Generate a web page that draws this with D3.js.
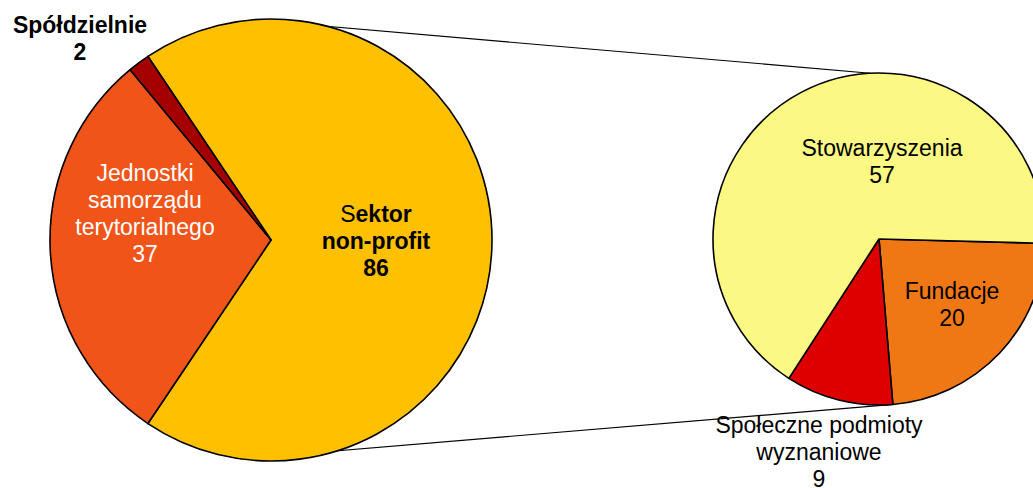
<!DOCTYPE html>
<html>
<head>
<meta charset="utf-8">
<script src="https://cdn.jsdelivr.net/npm/d3@7"></script>
<style>
  body { margin: 0; background: #fff; }
  svg { display: block; font-family: "Liberation Sans", Arial, sans-serif; }
</style>
</head>
<body>
<svg></svg>
<script>
// ─── DATA ─────────────────────────────────────────────────────────────────────

const mainLabels = [
  ["S|ektor", "non-profit"],
  ["Jednostki", "samorządu", "terytorialnego"],
  ["Spółdzielnie"],
];
const mainValues = [86, 37, 2];

const subLabels = [
  ["Fundacje"],
  ["Społeczne podmioty", "wyznaniowe"],
  ["Stowarzyszenia"],
];
const subValues = [20, 9, 57];

// ─── DIMENSIONS & STYLE ───────────────────────────────────────────────────────

const width = 1033,
  height = 488,
  fontSize = 23,
  lineH = 27;

const main = { cx: 271, cy: 240, r: 221 };
const sub = { cx: 879, cy: 239, r: 166 };

const mainColors = ["#FFC000", "#F05419", "#A50000"];
const subColors = ["#F07814", "#DE0000", "#FBF883"];

// label anchor: x offset from pie centre, baseline of first line, colour, weight
const mainLabelPos = [
  { dx: 105, dy: -18, fill: "#000", bold: true },
  { dx: -126, dy: -59, fill: "#fff", bold: false },
  { dx: -191, dy: -207, fill: "#000", bold: true },
];
const subLabelPos = [
  { dx: 73, dy: 60 },
  { dx: -60, dy: 194 },
  { dx: 3, dy: -83 },
];

const svg = d3.select("svg").attr("width", width).attr("height", height);

const rad = (deg) => (deg * Math.PI) / 180;

// ─── PIES ─────────────────────────────────────────────────────────────────────

// the split slice sits centred on the right side, as Excel does
const mainShare = mainValues[0] / d3.sum(mainValues);
const mainStart = Math.PI / 2 - Math.PI * mainShare;

const mainPie = d3
  .pie()
  .sort(null)
  .startAngle(mainStart)
  .endAngle(mainStart + 2 * Math.PI);

const subPie = d3
  .pie()
  .sort(null)
  .startAngle(rad(91.5))
  .endAngle(rad(91.5) + 2 * Math.PI);

const pt = (c, deg) => [
  c.cx + c.r * Math.sin(rad(deg)),
  c.cy - c.r * Math.cos(rad(deg)),
];

// connector lines between the two pies
svg
  .append("g")
  .attr("stroke", "#000")
  .attr("stroke-width", 1.1)
  .selectAll("line")
  .data([
    [pt(main, -5), pt(sub, -3)],
    [pt(main, 188), pt(sub, 175)],
  ])
  .join("line")
  .attr("x1", (d) => d[0][0])
  .attr("y1", (d) => d[0][1])
  .attr("x2", (d) => d[1][0])
  .attr("y2", (d) => d[1][1]);

function drawPie(c, pie, values, colors) {
  const arc = d3.arc().innerRadius(0).outerRadius(c.r);
  svg
    .append("g")
    .attr("transform", `translate(${c.cx},${c.cy})`)
    .selectAll("path")
    .data(pie(values))
    .join("path")
    .attr("d", arc)
    .attr("fill", (d, i) => colors[i])
    .attr("stroke", "#000")
    .attr("stroke-width", 1.6)
    .attr("stroke-linejoin", "round");
}

drawPie(main, mainPie, mainValues, mainColors);
drawPie(sub, subPie, subValues, subColors);

// ─── LABELS ───────────────────────────────────────────────────────────────────

function drawLabels(c, labels, values, pos) {
  const g = svg
    .append("g")
    .attr("transform", `translate(${c.cx},${c.cy})`)
    .attr("font-size", fontSize)
    .attr("text-anchor", "middle");

  labels.forEach((lines, i) => {
    const p = pos[i];
    const t = g
      .append("text")
      .attr("x", p.dx)
      .attr("y", p.dy)
      .attr("fill", p.fill || "#000")
      .attr("font-weight", p.bold ? "bold" : "normal");
    [...lines, String(values[i])].forEach((line, j) => {
      const ts = t
        .append("tspan")
        .attr("x", p.dx)
        .attr("y", p.dy + j * lineH);
      if (line.includes("|")) {
        // first letter drawn in normal weight, rest bold
        const [a, b] = line.split("|");
        ts.append("tspan").attr("font-weight", "normal").text(a);
        ts.append("tspan").text(b);
      } else {
        ts.text(line);
      }
    });
  });
}

drawLabels(main, mainLabels, mainValues, mainLabelPos);
drawLabels(sub, subLabels, subValues, subLabelPos);
</script>
</body>
</html>
